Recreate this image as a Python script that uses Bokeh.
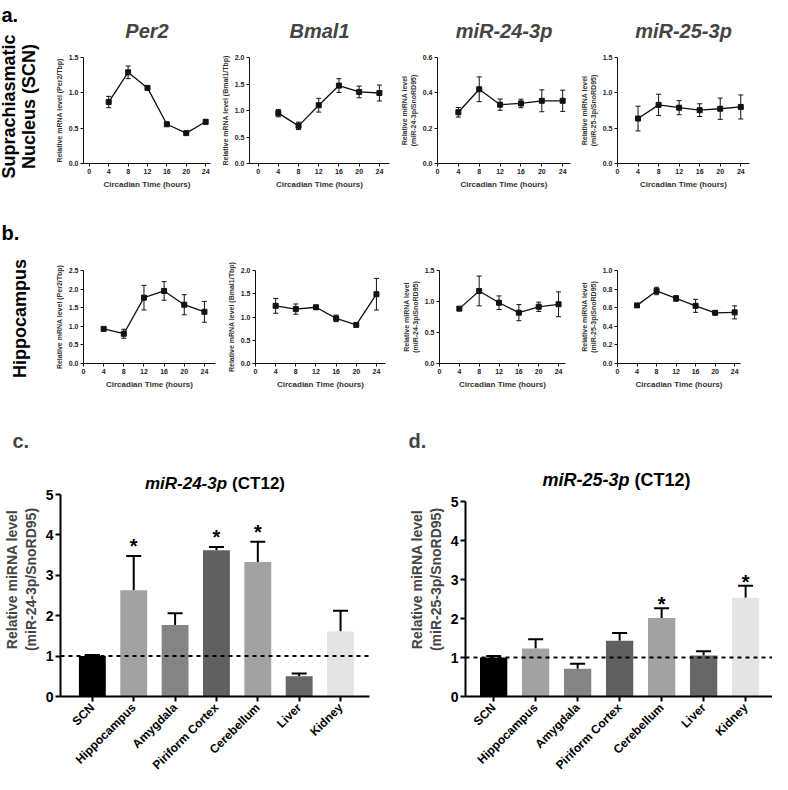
import math
from bokeh.plotting import figure
from bokeh.layouts import row, column
from bokeh.models import (ColumnDataSource, Whisker, TeeHead, FixedTicker, Range1d,
                          Span, Title, PrintfTickFormatter)
from bokeh.embed import file_html
from bokeh.resources import INLINE
from bokeh.core.properties import value

FONT = "Liberation Sans"

# ---------------- data ----------------
ct = [4, 8, 12, 16, 20, 24]
ct_ticks = [0, 4, 8, 12, 16, 20, 24]

scn_per2 = [0.87, 1.29, 1.07, 0.555, 0.43, 0.59]
scn_per2_err = [0.08, 0.09, 0.02, 0.02, 0.02, 0.03]
scn_bmal1 = [0.95, 0.71, 1.10, 1.47, 1.35, 1.33]
scn_bmal1_err = [0.07, 0.07, 0.13, 0.13, 0.11, 0.15]
scn_mir24 = [0.29, 0.42, 0.333, 0.34, 0.355, 0.355]
scn_mir24_err = [0.027, 0.07, 0.032, 0.024, 0.062, 0.06]
scn_mir25 = [0.636, 0.83, 0.79, 0.755, 0.775, 0.80]
scn_mir25_err = [0.175, 0.15, 0.10, 0.09, 0.15, 0.17]

hip_per2 = [0.93, 0.80, 1.77, 1.95, 1.58, 1.39]
hip_per2_err = [0.04, 0.12, 0.33, 0.25, 0.27, 0.28]
hip_bmal1 = [1.24, 1.17, 1.21, 0.97, 0.83, 1.49]
hip_bmal1_err = [0.16, 0.11, 0.04, 0.07, 0.01, 0.34]
hip_mir24 = [0.885, 1.17, 0.98, 0.82, 0.915, 0.955]
hip_mir24_err = [0.01, 0.24, 0.11, 0.13, 0.075, 0.20]
hip_mir25 = [0.625, 0.78, 0.70, 0.62, 0.545, 0.55]
hip_mir25_err = [0.012, 0.04, 0.03, 0.07, 0.012, 0.07]

per2_ticks_scn = [0, 0.5, 1.0, 1.5]
bmal1_ticks_scn = [0, 0.5, 1.0, 1.5, 2.0]
mir24_ticks_scn = [0, 0.2, 0.4, 0.6]
mir25_ticks_scn = [0, 0.5, 1.0, 1.5]
per2_ticks_hip = [0, 0.5, 1.0, 1.5, 2.0, 2.5]
bmal1_ticks_hip = [0, 0.5, 1.0, 1.5, 2.0]
mir24_ticks_hip = [0, 0.5, 1.0, 1.5]
mir25_ticks_hip = [0, 0.2, 0.4, 0.6, 0.8, 1.0]

tissues = ["SCN", "Hippocampus", "Amygdala", "Piriform Cortex", "Cerebellum", "Liver", "Kidney"]
mir24_ct12 = [1.0, 2.63, 1.77, 3.62, 3.33, 0.50, 1.61]
mir24_ct12_err = [0.03, 0.85, 0.29, 0.08, 0.50, 0.07, 0.51]
mir24_sig = [False, True, False, True, True, False, False]
mir25_ct12 = [1.0, 1.23, 0.71, 1.43, 2.01, 1.05, 2.53]
mir25_ct12_err = [0.04, 0.24, 0.13, 0.20, 0.25, 0.11, 0.31]
mir25_sig = [False, False, False, False, True, False, True]
bar_ticks = [0, 1, 2, 3, 4, 5]
tissue_colors = ["#000000", "#a2a2a2", "#858585", "#606060", "#a2a2a2", "#676767", "#e4e4e4"]


def base_fig(fig_box, frame_box, xr, yr, title=None):
    x0, x1, y0, y1 = fig_box
    fl, fr, ft, fb = frame_box
    p = figure(width=x1 - x0, height=y1 - y0, x_range=Range1d(*xr), y_range=Range1d(*yr),
               output_backend="svg", toolbar_location=None, title=title,
               min_border_left=fl - x0, min_border_right=x1 - fr,
               min_border_top=ft - y0, min_border_bottom=y1 - fb)
    p.outline_line_color = None
    p.xgrid.visible = False
    p.ygrid.visible = False
    p.background_fill_color = None
    p.border_fill_color = None
    return p


def line_panel(fig_box, frame_box, xr, y, err, yticks, ylabel, title=None):
    p = base_fig(fig_box, frame_box, xr, (0, yticks[-1]), title=title)
    for ax in (p.xaxis, p.yaxis):
        ax.axis_line_color = "#111111"
        ax.axis_line_width = 1
        ax.major_tick_line_color = "#111111"
        ax.major_tick_out = 3
        ax.major_tick_in = 0
        ax.minor_tick_line_color = None
        ax.major_label_text_font = FONT
        ax.major_label_text_font_size = "7px"
        ax.major_label_text_font_style = "bold"
        ax.major_label_text_color = "#222222"
        ax.major_label_standoff = 2
        ax.axis_label_text_font = FONT
        ax.axis_label_text_font_size = "7px"
        ax.axis_label_text_font_style = "bold"
        ax.axis_label_text_color = "#333333"
        ax.axis_label_standoff = 3
    p.xaxis.ticker = FixedTicker(ticks=ct_ticks)
    p.yaxis.ticker = FixedTicker(ticks=yticks)
    p.yaxis.formatter = PrintfTickFormatter(format="%.1f")
    p.xaxis.axis_label = "Circadian Time (hours)"
    p.xaxis.axis_label_text_font_size = "8px"
    p.yaxis.axis_label = ylabel
    src = ColumnDataSource(dict(x=ct, y=y,
                                lo=[a - b for a, b in zip(y, err)],
                                hi=[a + b for a, b in zip(y, err)]))
    p.add_layout(Whisker(source=src, base="x", upper="hi", lower="lo", line_color="#111111",
                         line_width=1,
                         upper_head=TeeHead(size=5, line_color="#111111", line_width=1),
                         lower_head=TeeHead(size=5, line_color="#111111", line_width=1)))
    p.line("x", "y", source=src, line_color="#111111", line_width=1.3)
    p.scatter("x", "y", source=src, marker="square", size=5, fill_color="#111111",
              line_color="#111111")
    if title:
        p.title.text_font = FONT
        p.title.text_font_size = "20px"
        p.title.text_font_style = "bold italic"
        p.title.align = "center"
        p.title.vertical_align = "top"
        p.title.offset = 10
        p.title.standoff = 27
    return p


def text_fig(fig_box, items):
    x0, x1, y0, y1 = fig_box
    p = figure(width=x1 - x0, height=y1 - y0, x_range=Range1d(x0, x1), y_range=Range1d(y1, y0),
               output_backend="svg", toolbar_location=None, min_border=0, title=None,
               x_axis_type=None, y_axis_type=None)
    p.outline_line_color = None
    p.xgrid.visible = False
    p.ygrid.visible = False
    for (tx, ty, t, size, ang, align) in items:
        p.text(x=[tx], y=[ty], text=[t], angle=ang, text_font=value(FONT),
               text_font_size=size, text_font_style="bold", text_align=align,
               text_baseline="middle", text_color="#000000")
    return p


def bar_panel(fig_box, frame_box, xr, y5px, vals, errs, sig, ylabel, letter, letter_dx,
              tname, tsplit, ty_px, tsize, star_off):
    x0, x1, y0, y1 = fig_box
    fl, fr, ft, fb = frame_box
    ppu = (fb - y5px) / 5.0
    ytop = (fb - ft) / ppu
    p = base_fig(fig_box, frame_box, xr, (0, ytop))

    def dx(px):
        return xr[0] + (px - fl) / (fr - fl) * (xr[1] - xr[0])

    idx = list(range(len(tissues)))
    src = ColumnDataSource(dict(x=idx, top=vals, color=tissue_colors,
                                hi=[a + b for a, b in zip(vals, errs)]))
    p.vbar(x="x", top="top", width=0.65, fill_color="color", line_color=None, source=src)
    p.add_layout(Whisker(source=src, base="x", upper="hi", lower="top", line_color="#000000",
                         line_width=2, lower_head=None,
                         upper_head=TeeHead(size=15, line_color="#000000", line_width=2)))
    p.add_layout(Span(location=1, dimension="width", line_dash="4 4", line_width=2,
                      line_color="#000000"))
    sx = [i for i, s in zip(idx, sig) if s]
    sy = [v + e for v, e, s in zip(vals, errs, sig) if s]
    p.text(x=sx, y=sy, text=["*"] * len(sx), text_font=value(FONT), text_font_size="20px",
           text_font_style="bold", text_align="center", text_baseline="middle",
           y_offset=star_off)
    for ax in (p.xaxis, p.yaxis):
        ax.axis_line_color = "#000000"
        ax.axis_line_width = 2
        ax.major_tick_line_color = "#000000"
        ax.major_tick_line_width = 2
        ax.major_tick_out = 5
        ax.major_tick_in = 0
        ax.minor_tick_line_color = None
        ax.major_label_text_font = FONT
        ax.major_label_text_font_style = "bold"
        ax.major_label_text_color = "#000000"
        ax.major_label_standoff = 2
    p.xaxis.major_label_standoff = 4
    p.xaxis.major_label_text_font_size = "12px"
    p.yaxis.major_label_text_font_size = "14px"
    p.xaxis.ticker = FixedTicker(ticks=idx)
    p.xaxis.major_label_overrides = {i: t for i, t in zip(idx, tissues)}
    p.xaxis.major_label_orientation = math.pi / 4
    p.yaxis.ticker = FixedTicker(ticks=bar_ticks)
    p.yaxis.bounds = (0, 5)
    p.yaxis.axis_label = ylabel
    p.yaxis.axis_label_text_font = FONT
    p.yaxis.axis_label_text_font_size = "14px"
    p.yaxis.axis_label_text_font_style = "bold"
    p.yaxis.axis_label_standoff = 4
    # panel letter (title panel above the frame)
    p.add_layout(Title(text=letter, text_font=FONT, text_font_size="20px",
                       text_font_style="bold", align="left", offset=letter_dx,
                       standoff=22), "above")
    # chart title inside the frame, above the y-axis bounds
    tyd = (fb - ty_px) / ppu
    p.text(x=[dx(tsplit)], y=[tyd], text=[tname], text_font=value(FONT),
           text_font_size=tsize, text_font_style="bold italic", text_align="right",
           text_baseline="middle")
    p.text(x=[dx(tsplit)], y=[tyd], text=["(CT12)"], text_font=value(FONT),
           text_font_size=tsize, text_font_style="bold", text_align="left",
           text_baseline="middle", x_offset=5)
    return p


# ---------------- row a ----------------
labA = text_fig((8, 60, 0, 203), [
    (9, 14, "a.", "20px", 0, "left"),
    (16, 106, "Suprachiasmatic", "18px", math.pi / 2, "center"),
    (36, 106, "Nucleus (SCN)", "18px", math.pi / 2, "center"),
])
a1 = line_panel((60, 226, 0, 203), (89, 218, 57, 163), (-1.2, 25.0), scn_per2, scn_per2_err,
                per2_ticks_scn, "Relative mRNA level (Per2/Tbp)", "Per2")
a2 = line_panel((226, 406, 0, 203), (253, 397, 57, 163), (-1.7, 26.0), scn_bmal1, scn_bmal1_err,
                bmal1_ticks_scn, "Relative mRNA level (Bmal1/Tbp)", "Bmal1")
a3 = line_panel((406, 586, 0, 203), (443, 578, 57, 163), (0, 25.5), scn_mir24, scn_mir24_err,
                mir24_ticks_scn, "Relative miRNA level\n(miR-24-3p/SnoRD95)", "miR-24-3p")
a4 = line_panel((586, 780, 0, 203), (620, 757, 57, 163), (0, 25.7), scn_mir25, scn_mir25_err,
                mir25_ticks_scn, "Relative miRNA level\n(miR-25-3p/SnoRD95)", "miR-25-3p")

# ---------------- row b ----------------
labB = text_fig((8, 60, 203, 403), [
    (9, 232, "b.", "20px", 0, "left"),
    (27, 318, "Hippocampus", "18px", math.pi / 2, "center"),
])
b1 = line_panel((60, 232, 203, 403), (91, 223, 270, 363), (0, 26.2), hip_per2, hip_per2_err,
                per2_ticks_hip, "Relative mRNA level (Per2/Tbp)")
b2 = line_panel((232, 408, 203, 403), (262, 393, 270, 363), (0, 25.8), hip_bmal1, hip_bmal1_err,
                bmal1_ticks_hip, "Relative mRNA level (Bmal1/Tbp)")
b3 = line_panel((408, 586, 203, 403), (444, 573, 270, 363), (0, 25.4), hip_mir24, hip_mir24_err,
                mir24_ticks_hip, "Relative miRNA level\n(miR-24-3p/SnoRD95)")
b4 = line_panel((586, 780, 203, 403), (622, 748, 270, 363), (0, 25.2), hip_mir25, hip_mir25_err,
                mir25_ticks_hip, "Relative miRNA level\n(miR-25-3p/SnoRD95)")

# ---------------- row c/d ----------------
c = bar_panel((8, 400, 403, 781), (58, 377, 462, 696), (-0.77, 6.70), 494, mir24_ct12,
              mir24_ct12_err, mir24_sig, "Relative miRNA level\n(miR-24-3p/SnoRD95)",
              "c.", -48, "miR-24-3p", 230, 483, "17px", -10)
d = bar_panel((400, 780, 403, 781), (473, 780, 462, 696), (-0.67, 6.64), 501, mir25_ct12,
              mir25_ct12_err, mir25_sig, "Relative miRNA level\n(miR-25-3p/SnoRD95)",
              "d.", -57, "miR-25-3p", 637, 479, "18px", -4)

layout = column(row(column(labA), row(a1, a2, a3, a4)),
                row(column(labB), row(b1, b2, b3, b4)),
                row(c, d))

with open("out.html", "w") as f:
    f.write(file_html(layout, INLINE))
